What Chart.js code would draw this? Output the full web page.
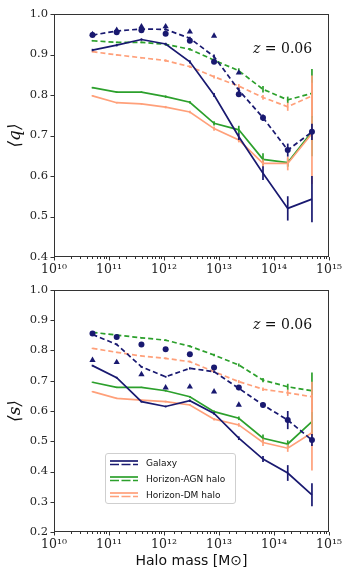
<!DOCTYPE html>
<html><head><meta charset="utf-8">
<script src="https://cdn.jsdelivr.net/npm/chart.js@4"></script>
<style>
html,body{margin:0;padding:0;background:#fff;width:349px;height:581px;overflow:hidden;position:relative}
#c1{position:absolute;left:0;top:0}
#c2{position:absolute;left:0;top:276px}
#legend{position:absolute;left:105px;top:453px;width:129px;height:49px;border:1px solid #cfcfcf;border-radius:3px;background:rgba(255,255,255,0.85);font-family:"DejaVu Sans",sans-serif;font-size:9px;color:#111}
#legend .row{position:absolute;left:4px;height:14px;display:flex;align-items:center}
#legend svg{margin-right:8px}
</style></head><body>
<canvas id="c1" width="349" height="285"></canvas>
<canvas id="c2" width="349" height="305"></canvas>
<div id="legend"></div>
<script>
// ---------- data ----------
const logMass = [10.70, 11.14, 11.59, 12.03, 12.47, 12.91, 13.36, 13.80, 14.25, 14.69];
const xTickExponents = [10, 11, 12, 13, 14, 15];
const seriesNames = ['Galaxy', 'Horizon-AGN halo', 'Horizon-DM halo'];
const seriesColors = ['#191970', '#2ca02c', '#ffa07a'];
const redshiftLabel = '0.06';

// top panel <q>
const qGalaxy        = [0.911, 0.923, 0.937, 0.926, 0.882, 0.800, 0.697, 0.607, 0.520, 0.543];
const qGalaxyErr     = [0.003, 0.003, 0.003, 0.003, 0.004, 0.005, 0.008, 0.017, 0.030, 0.057];
const qGalaxyDash    = [0.948, 0.958, 0.963, 0.962, 0.940, 0.895, 0.812, 0.744, 0.664, 0.709];
const qGalaxyDashErr = [0.003, 0.003, 0.003, 0.003, 0.004, 0.005, 0.006, 0.008, 0.016, 0.020];
const qGalaxyCircle  = [0.948, 0.955, 0.960, 0.951, 0.934, 0.882, 0.802, 0.744, 0.664, 0.709];
const qGalaxyTri     = [0.950, 0.960, 0.969, 0.969, 0.956, 0.946, 0.855, null, null, null];
const qAgn           = [0.818, 0.807, 0.807, 0.796, 0.782, 0.730, 0.714, 0.641, 0.633, 0.709];
const qAgnErr        = [0.002, 0.002, 0.002, 0.003, 0.003, 0.005, 0.010, 0.015, 0.010, 0.060];
const qAgnDash       = [0.934, 0.930, 0.930, 0.925, 0.913, 0.886, 0.860, 0.814, 0.788, 0.804];
const qAgnDashErr    = [0.002, 0.002, 0.002, 0.003, 0.003, 0.004, 0.006, 0.008, 0.008, 0.060];
const qDm            = [0.798, 0.781, 0.778, 0.770, 0.758, 0.717, 0.689, 0.631, 0.631, 0.705];
const qDmErr         = [0.002, 0.002, 0.002, 0.003, 0.003, 0.005, 0.006, 0.010, 0.017, 0.125];
const qDmDash        = [0.907, 0.899, 0.892, 0.885, 0.870, 0.845, 0.822, 0.794, 0.771, 0.798];
const qDmDashErr     = [0.002, 0.002, 0.002, 0.003, 0.003, 0.004, 0.005, 0.006, 0.010, 0.050];

// bottom panel <s>
const sGalaxy        = [0.750, 0.710, 0.631, 0.615, 0.634, 0.592, 0.510, 0.441, 0.395, 0.323];
const sGalaxyErr     = [0.003, 0.003, 0.003, 0.003, 0.004, 0.004, 0.006, 0.010, 0.026, 0.038];
const sGalaxyDash    = [0.853, 0.820, 0.746, 0.713, 0.741, 0.730, 0.675, 0.620, 0.570, 0.504];
const sGalaxyDashErr = [0.003, 0.003, 0.003, 0.003, 0.004, 0.004, 0.006, 0.008, 0.030, 0.020];
const sGalaxyCircle  = [0.856, 0.845, 0.820, 0.804, 0.788, 0.744, 0.678, 0.620, 0.570, 0.504];
const sGalaxyTri     = [0.768, 0.761, 0.721, 0.677, 0.680, 0.664, 0.620, null, null, null];
const sAgn           = [0.695, 0.678, 0.678, 0.667, 0.647, 0.598, 0.576, 0.510, 0.491, 0.565];
const sAgnErr        = [0.002, 0.002, 0.002, 0.003, 0.003, 0.004, 0.006, 0.012, 0.012, 0.060];
const sAgnDash       = [0.860, 0.851, 0.842, 0.834, 0.814, 0.785, 0.752, 0.702, 0.680, 0.667];
const sAgnDashErr    = [0.002, 0.002, 0.002, 0.003, 0.003, 0.004, 0.005, 0.007, 0.010, 0.060];
const sDm            = [0.664, 0.642, 0.636, 0.631, 0.620, 0.573, 0.554, 0.496, 0.477, 0.528];
const sDmErr         = [0.002, 0.002, 0.002, 0.003, 0.003, 0.004, 0.006, 0.012, 0.012, 0.125];
const sDmDash        = [0.807, 0.794, 0.782, 0.774, 0.763, 0.730, 0.697, 0.672, 0.660, 0.647];
const sDmDashErr     = [0.002, 0.002, 0.002, 0.003, 0.003, 0.004, 0.005, 0.006, 0.010, 0.050];

// ---------- helpers ----------
const SUP = {'0':'⁰','1':'¹','2':'²','3':'³','4':'⁴','5':'⁵','6':'⁶','7':'⁷','8':'⁸','9':'⁹'};
const sup = n => String(n).split('').map(c => SUP[c]).join('');
const pts = ys => logMass.map((l, i) => ({x: Math.pow(10, l), y: ys[i]}));
const DASH = [5, 3];

function lineDs(label, ys, errs, color, dashed, order) {
  return {label, data: pts(ys), errors: errs, borderColor: color, backgroundColor: color,
    borderWidth: 1.7, borderDash: dashed ? DASH : [], pointRadius: 0, tension: 0, order, spanGaps: false};
}
function markerDs(label, ys, color, style, r, order) {
  return {label, data: pts(ys), showLine: false, pointStyle: style, pointRadius: r,
    pointBorderWidth: 0, backgroundColor: color, borderColor: color, order};
}
function panelDatasets(p) {
  const [cg, ca, cd] = seriesColors;
  return [
    markerDs('Galaxy circles', p.gc, cg, 'circle', 3, 0),
    markerDs('Galaxy triangles', p.gt, cg, 'triangle', 3.6, 0),
    lineDs(seriesNames[0], p.g, p.ge, cg, false, 1),
    lineDs(seriesNames[0] + ' (dashed)', p.gd, p.gde, cg, true, 1),
    lineDs(seriesNames[2], p.d, p.de, cd, false, 2),
    lineDs(seriesNames[2] + ' (dashed)', p.dd, p.dde, cd, true, 2),
    lineDs(seriesNames[1], p.a, p.ae, ca, false, 3),
    lineDs(seriesNames[1] + ' (dashed)', p.ad, p.ade, ca, true, 3),
  ];
}

const errorBars = {
  id: 'errorBars',
  afterDatasetDraw(chart, args) {
    const ds = chart.data.datasets[args.index];
    if (!ds.errors) return;
    const ys = chart.scales.y, ctx = chart.ctx;
    ctx.save();
    ctx.strokeStyle = ds.borderColor; ctx.lineWidth = 1.7; ctx.setLineDash([]);
    args.meta.data.forEach((pt, i) => {
      const v = ds.data[i].y, e = ds.errors[i];
      if (v == null || e == null) return;
      ctx.beginPath();
      ctx.moveTo(pt.x, ys.getPixelForValue(v - e));
      ctx.lineTo(pt.x, ys.getPixelForValue(v + e));
      ctx.stroke();
    });
    ctx.restore();
  }
};

const frameAndTicks = {
  id: 'frameAndTicks',
  afterDraw(chart) {
    const {ctx, chartArea: a} = chart;
    const xs = chart.scales.x, ys = chart.scales.y;
    ctx.save();
    ctx.strokeStyle = '#333'; ctx.lineWidth = 1;
    ctx.strokeRect(Math.round(a.left) + 0.5, Math.round(a.top) + 0.5, Math.round(a.right - a.left) - 1, Math.round(a.bottom - a.top) - 1);
    ctx.beginPath();
    xs.ticks.forEach(t => {
      const l = Math.log10(t.value);
      const major = Math.abs(l - Math.round(l)) < 1e-6;
      const px = Math.round(xs.getPixelForValue(t.value)) + 0.5;
      const len = major ? 3.5 : 2;
      ctx.moveTo(px, a.bottom); ctx.lineTo(px, a.bottom + len);
    });
    ys.ticks.forEach(t => {
      const py = Math.round(ys.getPixelForValue(t.value)) + 0.5;
      ctx.moveTo(a.left, py); ctx.lineTo(a.left - 3.5, py);
    });
    ctx.stroke();
    // redshift annotation
    const y = a.top + 35;
    ctx.fillStyle = '#111'; ctx.textBaseline = 'middle'; ctx.textAlign = 'left';
    ctx.font = 'italic 14px "DejaVu Serif"';
    const x0 = a.right - 76;
    ctx.fillText('z', x0, y);
    const wz = ctx.measureText('z').width;
    ctx.font = '14px "DejaVu Serif"';
    ctx.fillText(' = ' + redshiftLabel, x0 + wz, y);
    ctx.restore();
  }
};

function makeChart(id, p, yMin, yTitle, xTitle, xHeight) {
  return new Chart(document.getElementById(id), {
    type: 'line',
    data: {datasets: panelDatasets(p)},
    options: {
      responsive: false, animation: false, devicePixelRatio: 1,
      layout: {padding: {top: 14, right: 20, left: 0, bottom: 0}},
      plugins: {legend: {display: false}, tooltip: {enabled: false}},
      scales: {
        x: {
          type: 'logarithmic', min: Math.pow(10, xTickExponents[0]), max: Math.pow(10, xTickExponents[xTickExponents.length - 1]),
          grid: {display: false, drawTicks: false}, border: {display: false},
          ticks: {autoSkip: false, maxRotation: 0, padding: 5, color: '#222', font: {family: 'DejaVu Serif', size: 12.5},
            callback: v => { const l = Math.log10(v); const r = Math.round(l);
              return (Math.abs(l - r) < 1e-6 && xTickExponents.includes(r)) ? '10' + sup(r) : ''; }},
          title: {display: !!xTitle, text: xTitle || '', color: '#111', font: {family: 'DejaVu Sans', size: 14}, padding: {top: 0, bottom: 11}},
          afterFit: s => { s.height = xHeight; }
        },
        y: {
          min: yMin, max: 1.0,
          grid: {display: false, drawTicks: false}, border: {display: false},
          ticks: {stepSize: 0.1, padding: 6, color: '#222', font: {family: 'DejaVu Serif', size: 11.5}, callback: v => v.toFixed(1)},
          title: {display: true, text: yTitle, color: '#111', font: {family: 'DejaVu Serif', size: 17, style: 'italic'}, padding: {top: 5, bottom: 0}},
          afterFit: s => { s.width = 54; }
        }
      }
    },
    plugins: [errorBars, frameAndTicks]
  });
}

makeChart('c1', {g: qGalaxy, ge: qGalaxyErr, gd: qGalaxyDash, gde: qGalaxyDashErr, gc: qGalaxyCircle, gt: qGalaxyTri,
  a: qAgn, ae: qAgnErr, ad: qAgnDash, ade: qAgnDashErr, d: qDm, de: qDmErr, dd: qDmDash, dde: qDmDashErr}, 0.4, '⟨q⟩', null, 28);
makeChart('c2', {g: sGalaxy, ge: sGalaxyErr, gd: sGalaxyDash, gde: sGalaxyDashErr, gc: sGalaxyCircle, gt: sGalaxyTri,
  a: sAgn, ae: sAgnErr, ad: sAgnDash, ade: sAgnDashErr, d: sDm, de: sDmErr, dd: sDmDash, dde: sDmDashErr}, 0.2, '⟨s⟩', 'Halo mass [M⊙]', 49);

// legend
const leg = document.getElementById('legend');
seriesNames.forEach((name, i) => {
  const row = document.createElement('div');
  row.className = 'row';
  row.style.top = (2 + i * 16) + 'px';
  const c = seriesColors[i];
  row.innerHTML = '<svg width="28" height="10"><line x1="0" y1="3" x2="28" y2="3" stroke="' + c + '" stroke-width="1.7"/>' +
    '<line x1="0" y1="6.5" x2="28" y2="6.5" stroke="' + c + '" stroke-width="1.7" stroke-dasharray="9,2.5"/></svg><span>' + name + '</span>';
  leg.appendChild(row);
});
</script>
</body></html>
